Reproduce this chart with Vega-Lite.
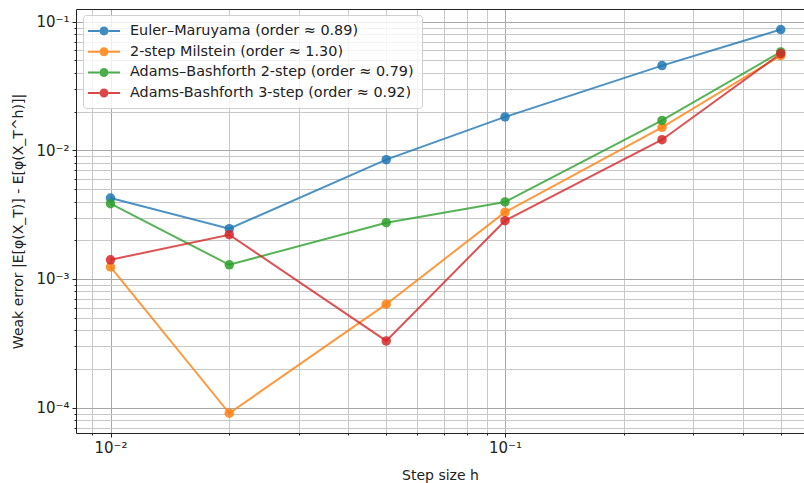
{
  "$schema": "https://vega.github.io/schema/vega-lite/v6.json",
  "width": 728,
  "height": 424,
  "autosize": {"type": "none"},
  "padding": {"left": 76, "top": 9, "right": 0, "bottom": 50},
  "background": "white",
  "config": {
    "view": {"stroke": null},
    "font": "DejaVu Sans",
    "axis": {"labelFont": "DejaVu Sans", "titleFont": "DejaVu Sans", "titleFontWeight": "normal", "labelColor": "#222", "titleColor": "#222", "domainColor": "#222", "tickColor": "#222"}
  },
  "data": {
    "values": [
      {"h": 0.01, "err": 0.00426, "method": "Euler–Maruyama (order ≈ 0.89)"},
      {"h": 0.02, "err": 0.00246, "method": "Euler–Maruyama (order ≈ 0.89)"},
      {"h": 0.05, "err": 0.00847, "method": "Euler–Maruyama (order ≈ 0.89)"},
      {"h": 0.1, "err": 0.0182, "method": "Euler–Maruyama (order ≈ 0.89)"},
      {"h": 0.25, "err": 0.0456, "method": "Euler–Maruyama (order ≈ 0.89)"},
      {"h": 0.5, "err": 0.0869, "method": "Euler–Maruyama (order ≈ 0.89)"},
      {"h": 0.01, "err": 0.00124, "method": "2-step Milstein (order ≈ 1.30)"},
      {"h": 0.02, "err": 0.0000904, "method": "2-step Milstein (order ≈ 1.30)"},
      {"h": 0.05, "err": 0.000637, "method": "2-step Milstein (order ≈ 1.30)"},
      {"h": 0.1, "err": 0.00331, "method": "2-step Milstein (order ≈ 1.30)"},
      {"h": 0.25, "err": 0.0151, "method": "2-step Milstein (order ≈ 1.30)"},
      {"h": 0.5, "err": 0.0546, "method": "2-step Milstein (order ≈ 1.30)"},
      {"h": 0.01, "err": 0.00385, "method": "Adams–Bashforth 2-step (order ≈ 0.79)"},
      {"h": 0.02, "err": 0.00129, "method": "Adams–Bashforth 2-step (order ≈ 0.79)"},
      {"h": 0.05, "err": 0.00274, "method": "Adams–Bashforth 2-step (order ≈ 0.79)"},
      {"h": 0.1, "err": 0.00397, "method": "Adams–Bashforth 2-step (order ≈ 0.79)"},
      {"h": 0.25, "err": 0.0171, "method": "Adams–Bashforth 2-step (order ≈ 0.79)"},
      {"h": 0.5, "err": 0.0583, "method": "Adams–Bashforth 2-step (order ≈ 0.79)"},
      {"h": 0.01, "err": 0.00141, "method": "Adams-Bashforth 3-step (order ≈ 0.92)"},
      {"h": 0.02, "err": 0.00221, "method": "Adams-Bashforth 3-step (order ≈ 0.92)"},
      {"h": 0.05, "err": 0.00033, "method": "Adams-Bashforth 3-step (order ≈ 0.92)"},
      {"h": 0.1, "err": 0.00284, "method": "Adams-Bashforth 3-step (order ≈ 0.92)"},
      {"h": 0.25, "err": 0.0121, "method": "Adams-Bashforth 3-step (order ≈ 0.92)"},
      {"h": 0.5, "err": 0.0566, "method": "Adams-Bashforth 3-step (order ≈ 0.92)"}
    ]
  },
  "layer": [
    {
      "mark": {"type": "line", "strokeWidth": 2, "opacity": 0.8},
      "encoding": {
        "x": {
          "field": "h", "type": "quantitative",
          "scale": {"type": "log", "domain": [0.008176, 0.5726], "nice": false, "zero": false},
          "axis": {
            "orient": "bottom",
            "title": "Step size h",
            "titleFontSize": 14,
            "titlePadding": 13,
            "values": [0.009, 0.01, 0.02, 0.03, 0.04, 0.05, 0.06, 0.07, 0.08, 0.09, 0.1, 0.2, 0.3, 0.4, 0.5],
            "labelExpr": "datum.value == 0.01 ? '10⁻²' : datum.value == 0.1 ? '10⁻¹' : ''",
            "labelFontSize": 15,
            "labelPadding": 3,
            "tickSize": {"condition": {"test": "datum.value == 0.01 || datum.value == 0.1", "value": 4}, "value": 2},
            "grid": true,
            "gridColor": {"condition": {"test": "datum.value == 0.01 || datum.value == 0.1", "value": "#a8a8a8"}, "value": "#c8c8c8"},
            "gridWidth": 1
          }
        },
        "y": {
          "field": "err", "type": "quantitative",
          "scale": {"type": "log", "domain": [0.0000635, 0.1256], "nice": false, "zero": false},
          "axis": {
            "title": "Weak error |E[φ(X_T)] - E[φ(X_T^h)]|",
            "titleFontSize": 14,
            "titleX": -58,
            "titleY": 212,
            "titleAngle": -90,
            "titleAlign": "center",
            "titleBaseline": "middle",
            "values": [0.00007, 0.00008, 0.00009, 0.0001, 0.0002, 0.0003, 0.0004, 0.0005, 0.0006, 0.0007, 0.0008, 0.0009, 0.001, 0.002, 0.003, 0.004, 0.005, 0.006, 0.007, 0.008, 0.009, 0.01, 0.02, 0.03, 0.04, 0.05, 0.06, 0.07, 0.08, 0.09, 0.1],
            "labelExpr": "datum.value == 0.1 ? '10⁻¹' : datum.value == 0.01 ? '10⁻²' : datum.value == 0.001 ? '10⁻³' : datum.value == 0.0001 ? '10⁻⁴' : ''",
            "labelFontSize": 15,
            "labelPadding": 3,
            "tickSize": {"condition": {"test": "datum.value == 0.1 || datum.value == 0.01 || datum.value == 0.001 || datum.value == 0.0001", "value": 4}, "value": 2},
            "grid": true,
            "gridColor": {"condition": {"test": "datum.value == 0.1 || datum.value == 0.01 || datum.value == 0.001 || datum.value == 0.0001", "value": "#a8a8a8"}, "value": "#c8c8c8"},
            "gridWidth": 1
          }
        },
        "color": {
          "field": "method", "type": "nominal",
          "scale": {
            "domain": ["Euler–Maruyama (order ≈ 0.89)", "2-step Milstein (order ≈ 1.30)", "Adams–Bashforth 2-step (order ≈ 0.79)", "Adams-Bashforth 3-step (order ≈ 0.92)"],
            "range": ["#1f77b4", "#ff7f0e", "#2ca02c", "#d62728"]
          },
          "legend": {
            "title": null,
            "orient": "none",
            "legendX": 7,
            "legendY": 6,
            "labelFont": "DejaVu Sans",
            "labelFontSize": 14.4,
            "labelColor": "#222",
            "labelLimit": 500,
            "labelOffset": 18,
            "symbolOffset": 5,
            "symbolType": "M-2,-0.125L-0.56,-0.125L-0.56,0.125L-2,0.125Z M0.56,-0.125L2,-0.125L2,0.125L0.56,0.125Z M-0.56,0A0.56,0.56 0 1,1 0.56,0A0.56,0.56 0 1,1 -0.56,0Z",
            "symbolSize": 256,
            "symbolStrokeWidth": 0,
            "symbolOpacity": 0.85,
            "rowPadding": 5.7,
            "padding": 8,
            "strokeColor": "#d0d0d0",
            "fillColor": "rgba(255,255,255,0.8)",
            "cornerRadius": 3
          }
        },
        "order": {"field": "h", "type": "quantitative"}
      }
    },
    {
      "mark": {"type": "point", "filled": true, "size": 90, "opacity": 0.85},
      "encoding": {
        "x": {
          "field": "h", "type": "quantitative",
          "scale": {"type": "log", "domain": [0.008176, 0.5726], "nice": false, "zero": false},
          "axis": {"orient": "top", "labels": false, "ticks": false, "grid": false, "title": null, "domain": true}
        },
        "y": {"field": "err", "type": "quantitative"},
        "color": {"field": "method", "type": "nominal"}
      }
    }
  ],
  "resolve": {"axis": {"x": "independent"}}
}
